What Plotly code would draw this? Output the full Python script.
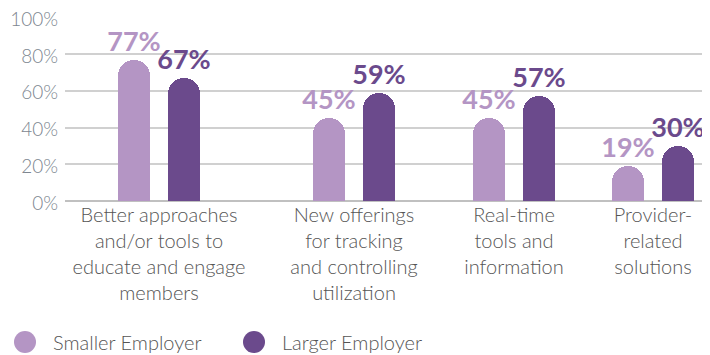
import plotly.graph_objects as go

categories = ["Better approaches<br>and/or tools to<br>educate and engage<br>members",
              "New offerings<br>for tracking<br>and controlling<br>utilization",
              "Real-time<br>tools and<br>information",
              "Provider-<br>related<br>solutions"]
positions = [94, 289, 449, 588]
smaller = [77, 45, 45, 19]
larger = [67, 59, 57, 30]
series_names = ["Smaller Employer", "Larger Employer"]
colors = ["#b495c4", "#6b4a8c"]
y_ticks = [0, 20, 40, 60, 80, 100]

# page has an 8px body margin, so the figure is shrunk to fit the 710x355 window
OFF = 8
W, H = 710 - OFF, 355 - OFF
L, R, T, B = 65 - OFF, 2, 17 - OFF, 154
pw, ph = W - L - R, H - T - B

offset = 25
bar_w = 32
fig = go.Figure()
for vals, name, col, sgn in [(smaller, series_names[0], colors[0], -1), (larger, series_names[1], colors[1], 1)]:
    fig.add_trace(go.Bar(
        x=[p + sgn * offset for p in positions], y=vals, width=bar_w, name=name,
        marker=dict(color=col, cornerradius="50%", line=dict(width=0)),
        text=[f"{v}%" for v in vals], textposition="outside", textangle=0,
        constraintext="none", cliponaxis=False,
        textfont=dict(family="Lato", size=27, color=col, weight="bold"),
        showlegend=False, hoverinfo="skip"))

# legend drawn as circles + labels below the plot (page pixel positions)
legend_px = [25, 254]
legend_py = 342
r = 11


def px_x(p):
    return (p - OFF - L) / pw


def px_y(p):
    return (H - B - (p - OFF)) / ph


for name, col, cx in zip(series_names, colors, legend_px):
    fig.add_shape(type="circle", xref="paper", yref="paper",
                  x0=px_x(cx - r), x1=px_x(cx + r),
                  y0=px_y(legend_py + r), y1=px_y(legend_py - r),
                  fillcolor=col, line=dict(width=0))
    fig.add_annotation(text=name, xref="paper", yref="paper", showarrow=False,
                       x=px_x(cx + r + 15), y=px_y(legend_py),
                       xanchor="left", yanchor="middle",
                       font=dict(size=20, color="#555", family="Lato", weight=300))

fig.update_layout(
    width=W, height=H, margin=dict(l=L, r=R, t=T, b=B, autoexpand=False),
    paper_bgcolor="white", plot_bgcolor="white",
    bargap=0, barmode="overlay", showlegend=False,
    font=dict(family="Lato", color="#555"),
    xaxis=dict(range=[0, 643], tickvals=positions, ticktext=categories, automargin=False,
               showgrid=False, zeroline=False, ticks="", showline=False,
               tickfont=dict(size=20, color="#555", family="Lato", weight=300)),
    yaxis=dict(range=[0, 100.2], tickmode="array", tickvals=y_ticks,
               ticktext=[f"{v}%" for v in y_ticks], showgrid=True, automargin=False,
               ticklabeloverflow="allow", ticklabelshift=2,
               gridcolor="#d0d0d0", gridwidth=1.5, zeroline=True, zerolinecolor="#c0c0c0",
               zerolinewidth=1.5, ticks="", ticklabelstandoff=6,
               tickfont=dict(size=19, color="#7d8690", family="Lato", weight=300)),
)
fig.write_html("out.html")
